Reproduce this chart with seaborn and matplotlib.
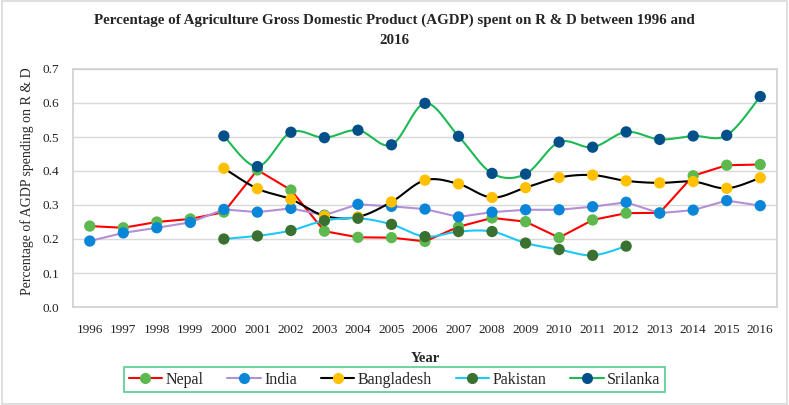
import numpy as np
import pandas as pd
import matplotlib
matplotlib.use("Agg")
import matplotlib.pyplot as plt
import seaborn as sns
from matplotlib.lines import Line2D

years = list(range(1996, 2017))
nepal = [0.238, 0.233, 0.250, 0.259, 0.279, 0.403, 0.344, 0.223, 0.205, 0.204, 0.193,
         0.236, 0.262, 0.251, 0.204, 0.256, 0.276, 0.277, 0.386, 0.417, 0.419]
india = [0.194, 0.218, 0.233, 0.249, 0.287, 0.279, 0.290, 0.270, 0.302, 0.296, 0.288,
         0.265, 0.279, 0.286, 0.286, 0.295, 0.308, 0.276, 0.285, 0.313, 0.298]
bangladesh = [None, None, None, None, 0.408, 0.348, 0.317, 0.268, 0.265, 0.309, 0.373,
              0.362, 0.322, 0.351, 0.381, 0.388, 0.371, 0.365, 0.369, 0.349, 0.380]
pakistan = [None, None, None, None, 0.200, 0.209, 0.225, 0.254, 0.261, 0.243, 0.207,
            0.222, 0.222, 0.188, 0.169, 0.152, 0.179, None, None, None, None]
srilanka = [None, None, None, None, 0.503, 0.413, 0.514, 0.498, 0.520, 0.477, 0.599,
            0.502, 0.393, 0.391, 0.485, 0.470, 0.515, 0.493, 0.503, 0.505, 0.619]

series_names = ["Nepal", "India", "Bangladesh", "Pakistan", "Srilanka"]
series_vals = [nepal, india, bangladesh, pakistan, srilanka]
line_colors = ["#FF0000", "#B48FD6", "#000000", "#1EC8F5", "#1DB954"]
marker_colors = ["#5DB84E", "#0A86D8", "#FFC000", "#3A7030", "#024F8A"]
smooth = [False, False, True, True, True]

rows = []
for n, v in zip(series_names, series_vals):
    for i, (y, val) in enumerate(zip(years, v)):
        if val is not None:
            rows.append({"series": n, "idx": i, "year": y, "value": val})
df = pd.DataFrame(rows)

sns.set_theme(style="white")
plt.rcParams["font.family"] = ["Liberation Serif", "DejaVu Serif"]

fig = plt.figure(figsize=(7.89, 4.05), dpi=100)
ax = fig.add_axes([73 / 789, 1 - 307 / 405, (777 - 73) / 789, (307 - 69) / 405])


def catmull(x, y, n=20):
    x = np.asarray(x, float)
    y = np.asarray(y, float)
    px = np.concatenate([[x[0]], x, [x[-1]]])
    py = np.concatenate([[y[0]], y, [y[-1]]])
    outx, outy = [], []
    t = np.linspace(0, 1, n)
    for i in range(1, len(px) - 2):
        p0, p1, p2, p3 = (np.array([px[j], py[j]]) for j in (i - 1, i, i + 1, i + 2))
        c1 = p1 + (p2 - p0) / 6
        c2 = p2 - (p3 - p1) / 6
        b = ((1 - t) ** 3)[:, None] * p1 + (3 * (1 - t) ** 2 * t)[:, None] * c1 \
            + (3 * (1 - t) * t ** 2)[:, None] * c2 + (t ** 3)[:, None] * p2
        outx.extend(b[:, 0]); outy.extend(b[:, 1])
    return np.array(outx), np.array(outy)


handles = []
for n, lc, mc, sm in zip(series_names, line_colors, marker_colors, smooth):
    d = df[df.series == n]
    if sm:
        sx, sy = catmull(d.idx.values, d.value.values)
        ax.plot(sx, sy, color=lc, lw=1.5, zorder=2)
    else:
        sns.lineplot(x=d.idx, y=d.value, color=lc, lw=1.5, ax=ax, zorder=2,
                     estimator=None, sort=False)
    sns.scatterplot(x=d.idx, y=d.value, color=mc, s=66, edgecolor="none", ax=ax,
                    zorder=3, legend=False)
    handles.append(Line2D([0], [0], color=lc, lw=1.5, marker="o", markersize=7,
                          markerfacecolor=mc, markeredgecolor=mc, label=n))

ax.set_xlim(-0.5, 20.5)
ax.set_ylim(0, 0.7)
ax.set_xticks(range(len(years)))
ax.set_xticklabels([str(y) for y in years])
ax.set_yticks(np.arange(0, 0.71, 0.1))
ax.set_yticklabels([f"{v:.1f}" for v in np.arange(0, 0.71, 0.1)])
ax.tick_params(axis="both", labelsize=9.5, length=0, colors="#222222")
ax.tick_params(axis="x", pad=12)
ax.tick_params(axis="y", pad=10)
ax.yaxis.grid(True, color="#D9D9D9", lw=1)
ax.set_axisbelow(True)
for s in ax.spines.values():
    s.set_color("#D0D0D0")
    s.set_linewidth(1.2)
ax.set_xlabel("Year", fontsize=10.5, fontweight="bold")
ax.xaxis.set_label_coords(0.5, -(352 - 307) / 238)
ax.set_ylabel("Percentage of AGDP spending on R & D", fontsize=10)
ax.yaxis.set_label_coords(-(73 - 34) / 704, (307 - 181) / 238)

fig.text(0.5, 1 - 20 / 405,
         "Percentage of Agriculture Gross Domestic Product (AGDP) spent on R & D between 1996 and",
         ha="center", va="center", fontsize=10.8, fontweight="bold")
fig.text(0.5, 1 - 40 / 405, "2016", ha="center", va="center", fontsize=10.8, fontweight="bold")

leg = fig.legend(handles=handles, loc="center", ncol=5,
                 bbox_to_anchor=(394.5 / 789, 1 - 379.5 / 405), fontsize=11.5,
                 frameon=True, fancybox=False, handlelength=2.1, columnspacing=1.5,
                 handletextpad=0.2, borderpad=0.3, borderaxespad=0)
leg.get_frame().set_edgecolor("#3CC47C")
leg.get_frame().set_linewidth(1.3)

fig.patches.append(plt.Rectangle((0.002, 0.003), 0.996, 0.994, transform=fig.transFigure,
                                 fill=False, edgecolor="#D9D9D9", lw=1.2))
fig.savefig("out.png", dpi=100)
